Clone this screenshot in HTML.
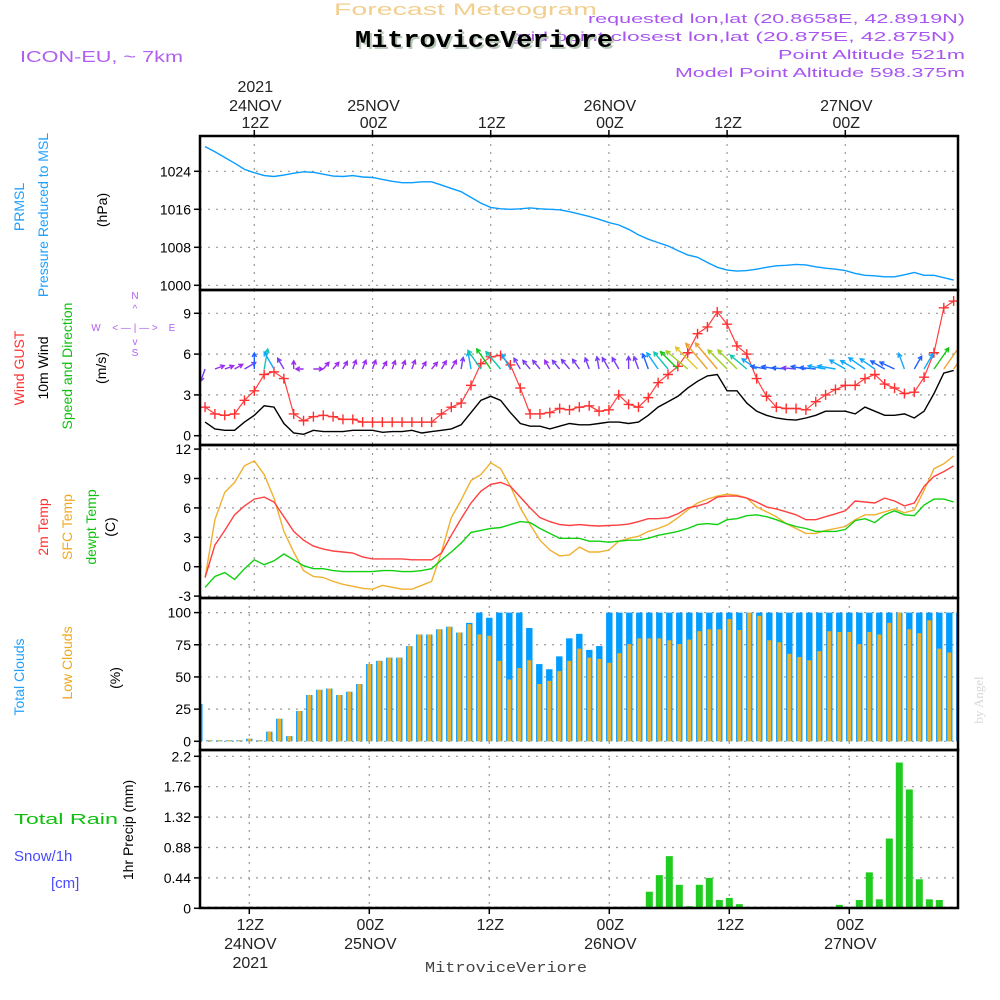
<!DOCTYPE html>
<html><head><meta charset="utf-8"><title>Forecast Meteogram</title>
<style>
html,body{margin:0;padding:0;background:#fff;}
svg{display:block;font-family:"Liberation Sans","DejaVu Sans",sans-serif;}
</style></head>
<body>
<svg id="chart" width="1000" height="1000" viewBox="0 0 1000 1000" xmlns="http://www.w3.org/2000/svg">
<defs>
<clipPath id="cp1"><rect x="200" y="136" width="758" height="154"/></clipPath>
<clipPath id="cp2"><rect x="200" y="290" width="758" height="155"/></clipPath>
<clipPath id="cp3"><rect x="200" y="445" width="758" height="153"/></clipPath>
<clipPath id="cp4"><rect x="200" y="598" width="758" height="152"/></clipPath>
<clipPath id="cp5"><rect x="200" y="750" width="758" height="158"/></clipPath>
</defs>
<!-- header -->
<text x="334" y="15" font-size="17" fill="#f2cf8e" textLength="263" lengthAdjust="spacingAndGlyphs">Forecast Meteogram</text>
<text x="955" y="41" font-size="13" fill="#a855f0" text-anchor="end" textLength="445" lengthAdjust="spacingAndGlyphs">grid point closest lon,lat (20.875E, 42.875N)</text>
<text x="357" y="49" font-size="24" font-weight="bold" font-family="'Liberation Mono','Liberation Serif',serif" fill="#b8c8b8" textLength="258" lengthAdjust="spacingAndGlyphs">MitroviceVeriore</text>
<text x="355" y="47" font-size="24" font-weight="bold" font-family="'Liberation Mono','Liberation Serif',serif" fill="#000" textLength="258" lengthAdjust="spacingAndGlyphs">MitroviceVeriore</text>
<text x="965" y="23" font-size="13" fill="#a855f0" text-anchor="end" textLength="377" lengthAdjust="spacingAndGlyphs">requested lon,lat (20.8658E, 42.8919N)</text>
<text x="965" y="59" font-size="13" fill="#a855f0" text-anchor="end" textLength="187" lengthAdjust="spacingAndGlyphs">Point Altitude 521m</text>
<text x="965" y="77" font-size="13" fill="#a855f0" text-anchor="end" textLength="290" lengthAdjust="spacingAndGlyphs">Model Point Altitude 598.375m</text>
<text x="20" y="62" font-size="16" fill="#b060f0" textLength="163" lengthAdjust="spacingAndGlyphs">ICON-EU, ~ 7km</text>

<!-- left labels -->
<g font-size="14">
<text transform="translate(24,207) rotate(-90)" text-anchor="middle" fill="#1ea0ff">PRMSL</text>
<text transform="translate(48,215) rotate(-90)" text-anchor="middle" fill="#1ea0ff">Pressure Reduced to MSL</text>
<text transform="translate(107,210) rotate(-90)" text-anchor="middle" fill="#000">(hPa)</text>
<text transform="translate(24,368) rotate(-90)" text-anchor="middle" fill="#ff3030">Wind GUST</text>
<text transform="translate(48,368) rotate(-90)" text-anchor="middle" fill="#000">10m Wind</text>
<text transform="translate(72,366) rotate(-90)" text-anchor="middle" fill="#10c010">Speed and Direction</text>
<text transform="translate(106,368) rotate(-90)" text-anchor="middle" fill="#000">(m/s)</text>
<text transform="translate(48,527) rotate(-90)" text-anchor="middle" fill="#ff3030">2m Temp</text>
<text transform="translate(72,527) rotate(-90)" text-anchor="middle" fill="#f0a820">SFC Temp</text>
<text transform="translate(96,527) rotate(-90)" text-anchor="middle" fill="#10c010">dewpt Temp</text>
<text transform="translate(115,527) rotate(-90)" text-anchor="middle" fill="#000">(C)</text>
<text transform="translate(24,677) rotate(-90)" text-anchor="middle" fill="#1ea0ff">Total Clouds</text>
<text transform="translate(72,663) rotate(-90)" text-anchor="middle" fill="#f0a820">Low Clouds</text>
<text transform="translate(120,678) rotate(-90)" text-anchor="middle" fill="#000">(%)</text>
<text transform="translate(133,830) rotate(-90)" text-anchor="middle" fill="#000">1hr Precip (mm)</text>
<text x="14" y="824" fill="#10c010" font-size="15" textLength="104" lengthAdjust="spacingAndGlyphs">Total  Rain</text>
<text x="14" y="861" fill="#4a4aff" font-size="15">Snow/1h</text>
<text x="51" y="888" fill="#4a4aff" font-size="15">[cm]</text>
</g>
<g fill="#b060f0" font-size="10" stroke="none">
<text x="135" y="299" text-anchor="middle">N</text>
<text x="135" y="312" text-anchor="middle">^</text>
<text x="96" y="331" text-anchor="middle">W</text>
<text x="172" y="331" text-anchor="middle">E</text>
<text x="135" y="331" text-anchor="middle">&lt; — | — &gt;</text>
<text x="135" y="345" text-anchor="middle">v</text>
<text x="135" y="356" text-anchor="middle">S</text>
</g>
<text transform="translate(983,700) rotate(-90)" text-anchor="middle" font-size="13" fill="#d8d8d8" font-family="'Liberation Serif',serif">by Angel</text>
<text x="425" y="972" font-size="15" fill="#444" font-family="'Liberation Mono',monospace" textLength="162" lengthAdjust="spacingAndGlyphs">MitroviceVeriore</text>

<g id="grid"></g>
<g id="marks"></g>
<g id="frames"></g>
<g id="axes"></g>
</svg>
<script>
// ---- data (hourly, starting 07Z 24NOV2021) ----
const pressure = [1029.2,1028.1,1026.9,1025.7,1024.4,1023.7,1023.1,1022.9,1023.2,1023.6,1023.9,1023.8,1023.4,1023.0,1022.9,1023.1,1022.8,1022.7,1022.3,1021.9,1021.6,1021.6,1021.8,1021.8,1021.1,1020.4,1019.7,1018.5,1017.3,1016.4,1016.1,1016.0,1016.1,1016.3,1016.1,1016.0,1015.9,1015.5,1015.0,1014.5,1013.9,1013.2,1012.7,1011.8,1010.6,1009.7,1009.0,1008.3,1007.3,1006.4,1005.9,1004.8,1003.8,1003.2,1003.0,1003.1,1003.4,1003.8,1004.1,1004.2,1004.4,1004.3,1003.9,1003.6,1003.4,1003.1,1002.5,1002.1,1002.0,1001.8,1001.8,1002.2,1002.7,1002.1,1002.1,1001.6,1001.1];
const windGust = [2.1,1.6,1.5,1.6,2.6,3.3,4.5,4.7,4.2,1.6,1.1,1.4,1.5,1.4,1.2,1.2,1.0,1.0,1.0,1.0,1.0,1.0,1.0,1.0,1.6,2.1,2.4,3.7,5.3,5.8,5.9,5.2,3.5,1.6,1.6,1.7,2.0,1.9,2.1,2.2,1.8,1.9,3.0,2.3,2.1,2.8,3.9,4.5,5.1,6.1,7.5,8.0,9.1,8.2,6.6,6.0,4.2,2.9,2.1,2.0,2.0,1.9,2.5,3.0,3.4,3.7,3.7,4.2,4.5,3.8,3.5,3.1,3.2,4.3,6.1,9.4,9.9];
const windSpeed = [1.0,0.5,0.4,0.4,1.0,1.5,2.2,2.1,0.9,0.2,0.1,0.4,0.3,0.3,0.3,0.4,0.4,0.4,0.25,0.3,0.3,0.4,0.2,0.3,0.4,0.5,0.8,1.7,2.6,2.9,2.6,1.7,0.9,0.7,0.7,0.5,0.7,0.9,0.8,0.8,0.9,1.0,1.0,0.9,1.0,1.5,2.1,2.5,2.9,3.5,4.0,4.4,4.5,3.3,3.3,2.4,1.8,1.5,1.3,1.2,1.15,1.3,1.5,1.8,1.8,1.8,1.6,2.1,1.8,1.5,1.5,1.6,1.3,1.8,3.1,4.6,4.8];
const windDir = [200,70,70,60,60,0,10,-30,-30,0,270,90,40,40,30,20,20,20,30,20,20,20,30,40,30,30,10,-10,-35,-35,-40,-30,-30,-40,-40,-30,-40,-40,-35,-20,-10,-30,-30,0,-20,-20,-35,-40,-45,-50,-45,-40,-40,-45,-45,-50,-55,-80,-80,-85,-85,-80,-85,-80,-80,-60,-60,-55,-55,-60,-65,-20,30,30,35,35,35];
const temp2m = [-1.1,2.2,3.7,5.3,6.2,6.9,7.1,6.6,5.1,3.6,2.7,2.1,1.8,1.6,1.5,1.4,1.0,0.8,0.8,0.8,0.8,0.7,0.7,0.7,1.4,3.2,4.9,6.5,7.7,8.4,8.6,8.2,7.1,6.0,5.0,4.6,4.3,4.2,4.3,4.2,4.15,4.2,4.25,4.35,4.6,4.9,4.9,5.0,5.4,6.0,6.2,6.5,7.1,7.2,7.2,7.0,6.6,6.1,5.9,5.6,5.3,4.8,4.8,5.1,5.4,5.7,6.7,6.6,6.5,7.0,6.7,6.2,6.5,8.2,9.2,9.7,10.3];
const tempSfc = [-1.1,4.8,7.6,8.6,10.3,10.8,9.4,7.0,3.6,1.5,-0.4,-1.0,-1.1,-1.5,-1.8,-2.0,-2.2,-2.3,-1.9,-2.1,-2.3,-2.3,-1.9,-1.5,1.5,5.0,6.8,8.8,9.4,10.6,10.0,8.2,6.0,4.3,2.7,1.7,1.1,1.2,2.0,1.5,1.5,1.7,2.6,2.9,3.1,3.6,3.9,4.3,5.0,5.8,6.5,6.9,7.2,7.4,7.3,7.0,6.1,5.6,5.1,4.4,3.9,3.4,3.4,3.7,3.9,4.1,4.8,5.3,5.3,5.6,5.9,5.5,5.8,7.8,10.0,10.5,11.3];
const tempDew = [-2.1,-1.0,-0.6,-1.3,-0.2,0.7,0.2,0.6,1.3,0.7,0.1,-0.2,-0.2,-0.4,-0.5,-0.5,-0.5,-0.5,-0.4,-0.4,-0.5,-0.5,-0.4,-0.2,0.7,1.5,2.4,3.5,3.7,3.9,4.0,4.3,4.6,4.5,3.9,3.4,2.9,2.9,2.9,2.6,2.6,2.5,2.6,2.7,2.7,2.9,3.2,3.4,3.6,3.9,4.3,4.4,4.3,4.8,4.9,5.2,5.3,5.1,4.8,4.4,4.1,3.9,3.6,3.6,3.6,3.8,4.7,4.9,4.5,5.3,5.7,5.3,5.2,6.3,6.9,6.9,6.6];
const totalClouds = [29,0,0,0,0,2,0.5,7.5,17.5,4,23.5,36,40,41,36,38.5,44.5,60,62.5,65,65,74,83,83,87,89,84.5,92,100,96,100,100,100,88,60,56,66,80,83.5,71,74,100,100,100,100,100,100,100,100,100,100,100,100,100,100,100,100,100,100,100,100,100,100,100,100,100,100,100,100,100,100,100,100,100,100,100,100];
const lowClouds = [29,0,0,0,0,2,0.5,7.5,17.5,4,23.5,36,40,41,36,38.5,44.5,60,62.5,65,65,74,83,83,87,89,84.5,91,83,82,62.5,48,57,63,44.5,47,54.5,62.5,72,65,64,61,68.5,75.5,80,80,80,78.5,75.5,79,85.5,87,87,95,86.5,100,97.5,78.5,77,68,65.5,63,70,85.5,85,85,75.5,85,83,92,100,87,84,94,72,69,65];
const precip = [0,0,0,0,0,0,0,0,0,0,0,0,0,0,0,0,0,0,0,0,0,0,0,0,0,0,0,0,0,0,0,0,0,0,0,0,0,0,0,0,0,0,0,0.01,0.02,0.24,0.48,0.755,0.34,0.03,0.34,0.44,0.12,0.15,0.06,0,0,0,0,0,0,0,0,0,0.05,0.02,0.12,0.52,0.13,1.01,2.11,1.72,0.42,0.13,0.12];
const pressureTicks = [1000,1008,1016,1024];
const windTicks = [0,3,6,9];
const tempTicks = [-3,0,3,6,9,12];
const cloudTicks = [0,25,50,75,100];
const precipTicks = [0,0.44,0.88,1.32,1.76,2.2];
const timeGridHours = [0,12,24,36,48,60];
const topTimeLabels = [["2021","24NOV","12Z"],["","25NOV","00Z"],["","","12Z"],["","26NOV","00Z"],["","","12Z"],["","27NOV","00Z"]];
const bottomTimeLabels = [["12Z","24NOV","2021"],["00Z","25NOV",""],["12Z","",""],["00Z","26NOV",""],["12Z","",""],["00Z","27NOV",""]];

// ---- scales ----
const NS = "http://www.w3.org/2000/svg";
const X0 = 200, X1 = 958;
const xTop = h => 254.3 + 9.85 * h;
const xBot = h => 249.3 + 10 * h;
const yP = v => 285.3 - (v - 1000) * 4.75;
const yW = v => 435.7 - v * 13.6;
const yT = v => 566.7 - v * 9.8;
const yC = v => 741.3 - v * 1.287;
const yR = v => 908.3 - v * (30.4 / 0.44);
const hourOf = i => i - 5;

function mk(tag, attrs, parent) {
  const e = document.createElementNS(NS, tag);
  for (const k in attrs) e.setAttribute(k, attrs[k]);
  parent.appendChild(e);
  return e;
}
const grid = document.getElementById('grid');
const marks = document.getElementById('marks');
const frames = document.getElementById('frames');
const axes = document.getElementById('axes');

const panels = [
  {top:136,bot:290,ticks:pressureTicks,y:yP,x:xTop,name:'pressure',fmt:v=>String(v)},
  {top:290,bot:445,ticks:windTicks,y:yW,x:xTop,name:'wind',fmt:v=>String(v)},
  {top:445,bot:598,ticks:tempTicks,y:yT,x:xTop,name:'temp',fmt:v=>String(v)},
  {top:598,bot:750,ticks:cloudTicks,y:yC,x:xBot,name:'clouds',fmt:v=>String(v)},
  {top:750,bot:908,ticks:precipTicks,y:yR,x:xBot,name:'precip',fmt:v=>String(v)}
];

panels.forEach(p => {
  p.ticks.forEach(v => {
    const yy = p.y(v);
    if (yy > p.top + 1 && yy < p.bot - 1) {
      const gl = mk('line', {x1:X0, x2:X1, y1:yy, y2:yy, stroke:'#999', 'stroke-width':1.2, 'stroke-dasharray':'2,6'}, grid);
      
      
    }
    if (yy >= p.top - 1 && yy <= p.bot + 6) {
      const tk = mk('line', {x1:X0-6, x2:X0, y1:yy, y2:yy, stroke:'#000', 'stroke-width':1.5}, axes);
      
      
      const tl = mk('text', {x:X0-9, y:yy+5, 'text-anchor':'end', 'font-size':14, fill:'#000'}, axes);
      
      
      tl.textContent = p.fmt(v);
    }
  });
  timeGridHours.forEach(h => {
    const xx = p.x(h);
    const gl = mk('line', {x1:xx, x2:xx, y1:p.top, y2:p.bot, stroke:'#999', 'stroke-width':1.2, 'stroke-dasharray':'2,6'}, grid);
    
    
  });
  const fr = mk('rect', {x:X0, y:p.top, width:X1-X0, height:p.bot-p.top, fill:'none', stroke:'#000', 'stroke-width':2.5}, frames);
  
  
});

timeGridHours.forEach((h, k) => {
  const xx = xTop(h);
  const tk = mk('line', {x1:xx, x2:xx, y1:130, y2:136, stroke:'#000', 'stroke-width':1.5}, axes);
  
  
  topTimeLabels[k].forEach((s, r) => {
    if (!s) return;
    const t = mk('text', {x:xx+1, y:[92,111,128][r], 'text-anchor':'middle', 'font-size':16, fill:'#222'}, axes);
    
    
    t.textContent = s;
  });
});
timeGridHours.forEach((h, k) => {
  const xx = xBot(h);
  const tk = mk('line', {x1:xx, x2:xx, y1:908, y2:914, stroke:'#000', 'stroke-width':1.5}, axes);
  
  
  bottomTimeLabels[k].forEach((s, r) => {
    if (!s) return;
    const t = mk('text', {x:xx+1, y:[930,949,968][r], 'text-anchor':'middle', 'font-size':16, fill:'#222'}, axes);
    
    
    t.textContent = s;
  });
});

function linePath(arr, xs, ys) {
  return arr.map((v, i) => (i ? 'L' : 'M') + xs(hourOf(i)).toFixed(1) + ',' + ys(v).toFixed(1)).join('');
}
function addLine(arr, xs, ys, color, clip, name, w) {
  const p = mk('path', {d:linePath(arr, xs, ys), fill:'none', stroke:color, 'stroke-width':w||1.4, 'clip-path':'url(#'+clip+')'}, marks);
  
  
}

addLine(pressure, xTop, yP, '#0a9cff', 'cp1', 'pressure-line');
addLine(windSpeed, xTop, yW, '#000', 'cp2', 'wind-speed-line');
addLine(windGust, xTop, yW, '#ff4040', 'cp2', 'wind-gust-line', 1.2);
windGust.forEach((v, i) => {
  const cx = xTop(hourOf(i)), cy = yW(v);
  const g = mk('path', {d:`M${cx-5},${cy}H${cx+5}M${cx},${cy-5}V${cy+5}`, stroke:'#ff3030', 'stroke-width':1.4, fill:'none', 'clip-path':'url(#cp2)'}, marks);
  
  
});
function windColor(s) {
  if (s < 0.6) return '#9a2cf0';
  if (s < 1.2) return '#7a3cf8';
  if (s < 1.6) return '#2060ff';
  if (s < 2.2) return '#10a8ff';
  if (s < 2.7) return '#10c8b0';
  if (s < 3.3) return '#10c818';
  if (s < 3.9) return '#a0d020';
  if (s < 4.4) return '#e0c820';
  return '#f0a030';
}
windDir.forEach((d, i) => {
  const s = windSpeed[i];
  const len = 7 + s * 6;
  const a = d * Math.PI / 180;
  const tx = xTop(hourOf(i)), ty = 369;
  const hx = tx + Math.sin(a) * len, hy = ty - Math.cos(a) * len;
  const ha = 4.5;
  const l1x = hx - Math.sin(a - 0.5) * ha, l1y = hy + Math.cos(a - 0.5) * ha;
  const l2x = hx - Math.sin(a + 0.5) * ha, l2y = hy + Math.cos(a + 0.5) * ha;
  const col = windColor(s);
  const ar = mk('path', {d:`M${tx.toFixed(1)},${ty}L${hx.toFixed(1)},${hy.toFixed(1)}M${l1x.toFixed(1)},${l1y.toFixed(1)}L${hx.toFixed(1)},${hy.toFixed(1)}L${l2x.toFixed(1)},${l2y.toFixed(1)}`, stroke:col, 'stroke-width':1.4, fill:'none', 'clip-path':'url(#cp2)'}, marks);
  
  
});
addLine(tempSfc, xTop, yT, '#f0b030', 'cp3', 'sfc-temp-line');
addLine(temp2m, xTop, yT, '#ff4040', 'cp3', 'temp-2m-line');
addLine(tempDew, xTop, yT, '#10d010', 'cp3', 'dewpoint-line');
totalClouds.forEach((v, i) => {
  const cx = xBot(hourOf(i));
  const yTop = Math.min(yC(v), 741.3 - 1);
  const b = mk('rect', {x:cx-3.2, y:yTop, width:6.4, height:741.3-yTop, fill:'#009cff', 'clip-path':'url(#cp4)'}, marks);
  
  
  const lv = lowClouds[i];
  const yl = Math.min(yC(lv), 741.3 - 1);
  const b2 = mk('rect', {x:cx-2, y:yl, width:4, height:741.3-yl, fill:'#e8b030', 'clip-path':'url(#cp4)'}, marks);
  
  
});
const zl = mk('line', {x1:X0, x2:X1, y1:907.5, y2:907.5, stroke:'#333', 'stroke-width':1.5, 'stroke-dasharray':'4,3'}, marks);


precip.forEach((v, i) => {
  if (v <= 0) return;
  const cx = xBot(hourOf(i));
  const b = mk('rect', {x:cx-3.5, y:yR(v), width:7, height:908.3-yR(v), fill:'#20cc20', 'clip-path':'url(#cp5)'}, marks);
  
  
});
</script>
</body></html>
